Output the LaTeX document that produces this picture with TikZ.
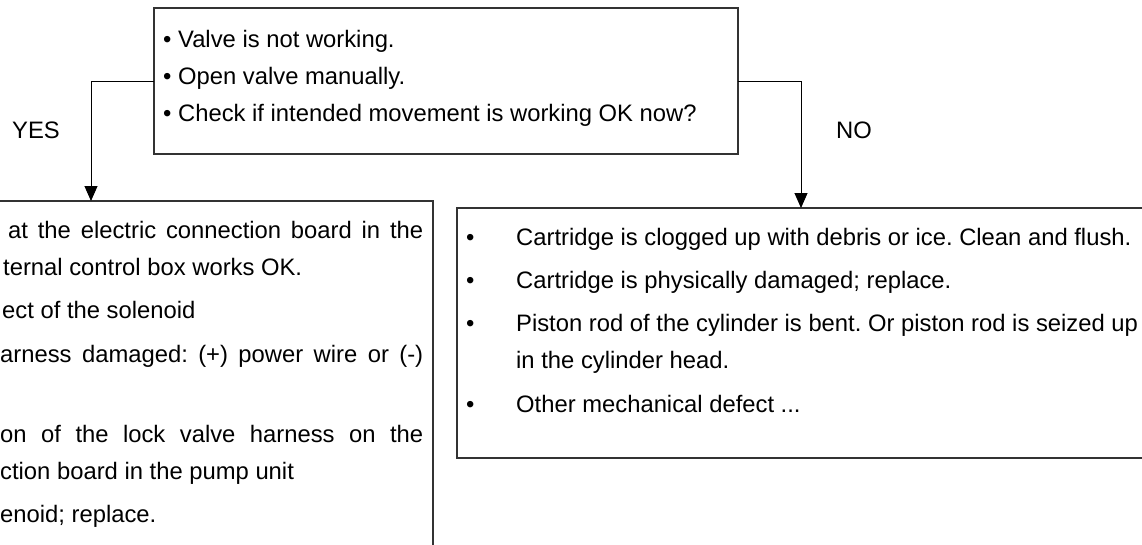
\documentclass[tikz,border=0pt]{standalone}
\usepackage{fontspec}
\setmainfont{Liberation Sans}
\usetikzlibrary{arrows.meta}
\frenchspacing
\begin{document}
\begin{tikzpicture}[x=1pt,y=-1pt,
  box/.style={draw=black!80, line width=1.1pt, inner sep=0pt, outer sep=0pt, anchor=north west},
  conn/.style={draw=black, line width=1pt},
  arr/.style={conn, -{Triangle[length=15pt,width=13pt]}},
  txt/.style={anchor=base west, inner sep=0pt, font=\fontsize{23.8}{28}\selectfont\frenchspacing},
  lbl/.style={anchor=center, inner sep=0pt, font=\fontsize{23.8}{28}\selectfont}]
\useasboundingbox (0,0) rectangle (1142,544);
\clip (0,0) rectangle (1142,544);
\fill[white] (0,0) rectangle (1142,544);
% boxes
\node[box, minimum width=584pt, minimum height=146pt] (top) at (154,8) {};
\node[box, minimum width=493pt, minimum height=400pt] (left) at (-60,201) {};
\node[box, minimum width=720pt, minimum height=250pt] (right) at (457,208) {};
% connectors
\coordinate (ya) at (91,201);
\coordinate (na) at (801,208);
\draw[arr] (top.west) -| (ya);
\draw[arr] (top.east) -| (na);
% labels
\node[lbl] (yes) at (36,130) {YES};
\node[lbl] (no) at (854,130) {NO};
% top box text
\node[txt] (t1) at (163,47) {• Valve is not working.};
\node[txt] (t2) at (163,84) {• Open valve manually.};
\node[txt] (t3) at (163,121) {• Check if intended movement is working OK now?};
% left box text
\node[txt] (l1) at (8,238) {\makebox[415pt][s]{at the electric connection board in the}};
\node[txt] (l2) at (3,275) {ternal control box works OK.};
\node[txt] (l3) at (2,318) {ect of the solenoid};
\node[txt] (l4) at (0,362) {\makebox[423pt][s]{arness damaged: (+) power wire or (-)}};
\node[txt] (l5) at (0,442) {\makebox[423pt][s]{on of the lock valve harness on the}};
\node[txt] (l6) at (0,479) {ction board in the pump unit};
\node[txt] (l7) at (0,522) {enoid; replace.};
% right box text
\node[txt] (r1) at (466,245) {\makebox[50pt][l]{•}Cartridge is clogged up with debris or ice. Clean and flush.};
\node[txt] (r2) at (466,288) {\makebox[50pt][l]{•}Cartridge is physically damaged; replace.};
\node[txt] (r3) at (466,331) {\makebox[50pt][l]{•}Piston rod of the cylinder is bent. Or piston rod is seized up};
\node[txt] (r4) at (516,368) {in the cylinder head.};
\node[txt] (r5) at (466,412) {\makebox[50pt][l]{•}Other mechanical defect ...};
\end{tikzpicture}
\end{document}
